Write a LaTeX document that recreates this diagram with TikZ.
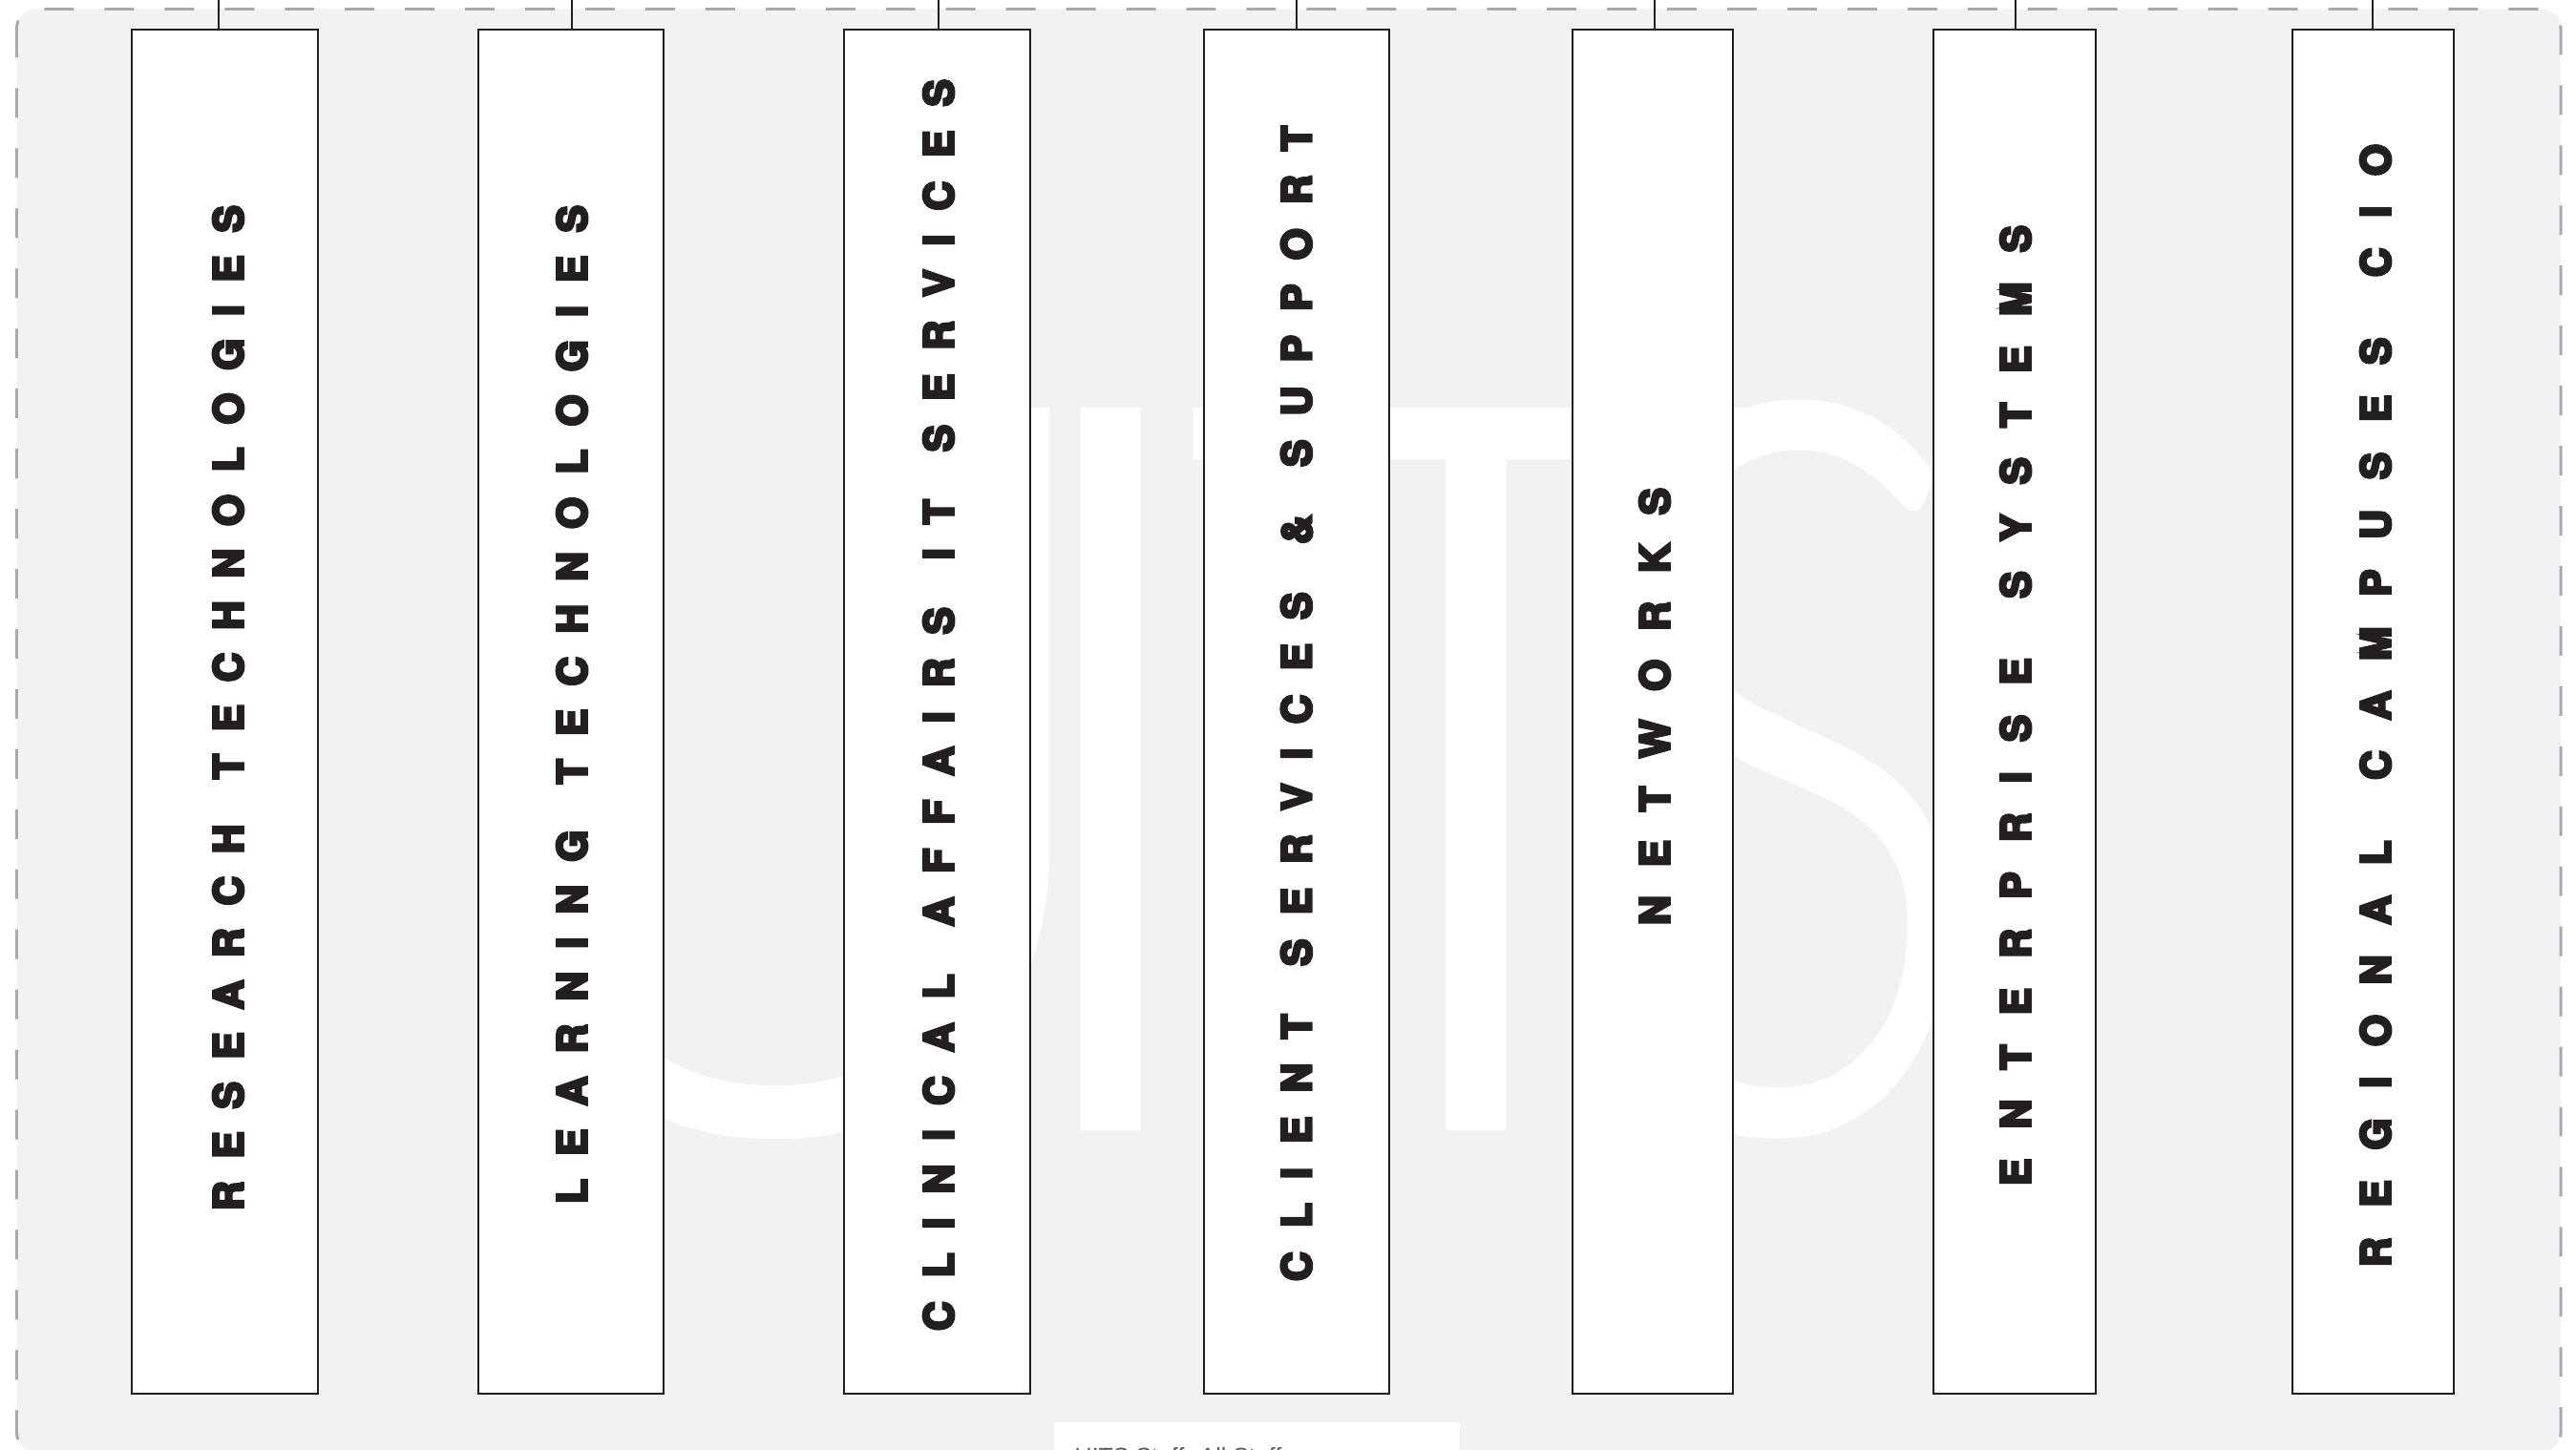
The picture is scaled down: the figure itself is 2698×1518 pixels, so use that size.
\documentclass[tikz,border=0pt]{standalone}
\usepackage{fontspec}
\IfFontExistsTF{Lato Light}{\newfontfamily\wmfont{Lato Light}}{\newfontfamily\wmfont{TeX Gyre Heros}}
\newfontfamily\labfont{TeX Gyre Heros}
\newfontfamily\capfont{Liberation Sans}
\definecolor{bgfill}{HTML}{F1F2F4}
\definecolor{dashc}{HTML}{A7A9AC}
\definecolor{ink}{HTML}{231F20}
\definecolor{captxt}{HTML}{58595B}
\newdimen\upx \upx=0.01cm
\def\spaced#1{\spA#1\relax}
\def\spA#1{#1\spB}
\def\spB#1{%
  \ifx\relax#1\let\spnext\relax
  \else
    \ifx/#1\hfil\else\hfil#1\fi
    \let\spnext\spB
  \fi
  \spnext}
\newcommand\strokedtext[2]{\special{pdf:literal direct 2 Tr #1 w}#2\special{pdf:literal direct 0 Tr}}
\newcommand\lab[2]{\strokedtext{0.8}{\makebox[#1\upx][s]{\spaced{#2}}}}
\begin{document}
\begin{tikzpicture}[x=0.01cm,y=-0.01cm,
  unitbox/.style={rectangle, draw=ink, line width=0.75pt, fill=white, inner sep=0pt, minimum height=1429\upx},
  wmletter/.style={text=white, inner sep=0pt, anchor=base, font=\wmfont\fontsize{301pt}{301pt}\selectfont},
  unitlabel/.style={rotate=90, inner sep=0pt, text=ink, font=\labfont\bfseries\fontsize{12.1pt}{12.1pt}\selectfont},
  link/.style={draw=ink, line width=0.55pt}]
\useasboundingbox (0,0) rectangle (2698,1518);
\clip (0,0) rectangle (2698,1518);
% frame
\draw[fill=bgfill, draw=dashc, line width=0.85pt, dash pattern=on 8.8pt off 9.1pt, rounded corners=0.2cm] (17.5,9.5) rectangle (2682,1521);
% watermark
\node[wmletter] (wU) at (811,1180) {\strokedtext{2.4}{U}};
\node[wmletter] (wI) at (1163,1180) {\strokedtext{2.4}{I}};
\node[wmletter] (wT) at (1545,1180) {\strokedtext{2.4}{T}};
\node[wmletter] (wS) at (1872,1180) {\strokedtext{2.4}{\scalebox{0.74}[1]{S}}};
% boxes
\node[unitbox, minimum width=195\upx] (b1) at (235.5,745.5) {};
\node[unitbox, minimum width=194\upx] (b2) at (598,745.5) {};
\node[unitbox, minimum width=195\upx] (b3) at (981.5,745.5) {};
\node[unitbox, minimum width=194\upx] (b4) at (1358,745.5) {};
\node[unitbox, minimum width=168\upx] (b5) at (1731,745.5) {};
\node[unitbox, minimum width=170\upx] (b6) at (2110,745.5) {};
\node[unitbox, minimum width=169\upx] (b7) at (2485.5,745.5) {};
% connectors
\coordinate (t1) at (229,0);
\coordinate (t2) at (599,0);
\coordinate (t3) at (983,0);
\coordinate (t4) at (1358,0);
\coordinate (t5) at (1733,0);
\coordinate (t6) at (2111,0);
\coordinate (t7) at (2485,0);
\draw[link] (t1) -- (t1 |- b1.north);
\draw[link] (t2) -- (t2 |- b2.north);
\draw[link] (t3) -- (t3 |- b3.north);
\draw[link] (t4) -- (t4 |- b4.north);
\draw[link] (t5) -- (t5 |- b5.north);
\draw[link] (t6) -- (t6 |- b6.north);
\draw[link] (t7) -- (t7 |- b7.north);
% labels
\node[unitlabel] (l1) at (239,741.5) {\lab{1053}{RESEARCH/TECHNOLOGIES}};
\node[unitlabel] (l2) at (599,738) {\lab{1046}{LEARNING/TECHNOLOGIES}};
\node[unitlabel] (l3) at (983,738.5) {\lab{1311}{CLINICAL/AFFAIRS/IT/SERVICES}};
\node[unitlabel] (l4) at (1358,737) {\lab{1210}{CLIENT/SERVICES/\&/SUPPORT}};
\node[unitlabel] (l5) at (1733,740) {\lab{458}{NETWORKS}};
\node[unitlabel] (l6) at (2111,739) {\lab{1006}{ENTERPRISE/SYSTEMS}};
\node[unitlabel] (l7) at (2488,739) {\lab{1176}{REGIONAL/CAMPUSES/CIO}};
% bottom caption
\node[fill=white, inner sep=0pt, minimum width=425\upx, minimum height=60\upx, anchor=north west] (capbox) at (1103,1489) {};
\node[anchor=north west, inner sep=0pt, text=captxt, font=\capfont\fontsize{7.1pt}{8pt}\selectfont] (cap) at (1125,1516) {UITS Staff: All Staff};
\end{tikzpicture}
\end{document}
